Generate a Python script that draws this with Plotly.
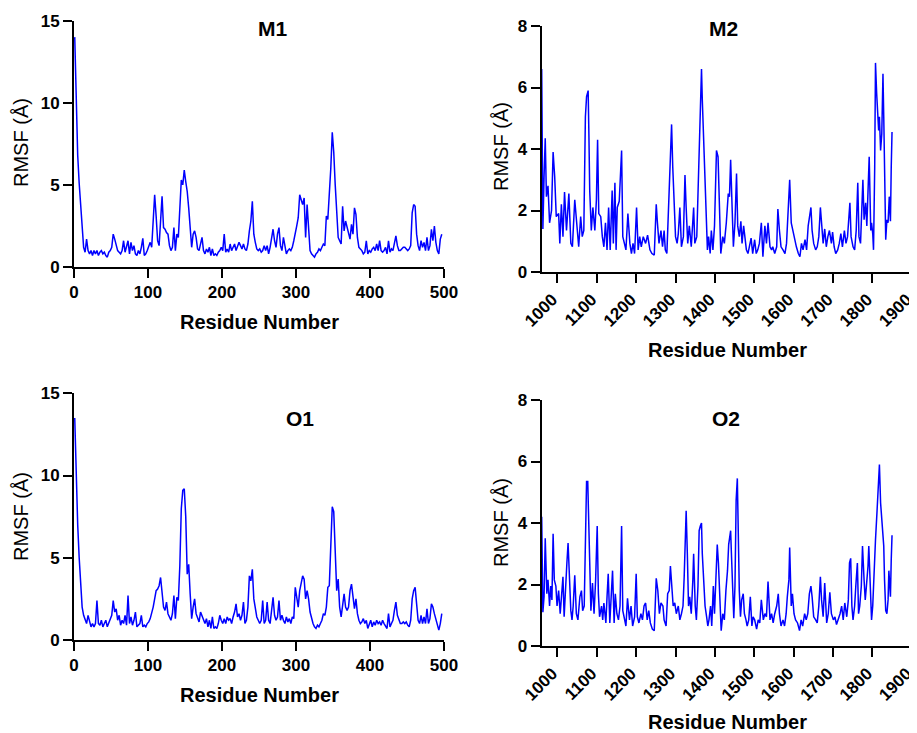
import plotly.graph_objects as go

# ---------------- data ----------------
m1_rmsf = [
    14.0, 9.5, 6.8, 5.1, 3.8, 2.2, 1.2, 0.9, 1.7, 1.0, 0.8, 1.0, 0.7, 1.0, 0.8, 1.0, 0.7, 0.9, 1.0, 0.8,
    0.9, 0.7, 0.6, 0.9, 1.0, 1.2, 2.0, 1.7, 1.4, 1.0, 0.9, 0.8, 1.0, 1.6, 0.9, 1.3, 1.6, 0.8, 1.5, 1.0,
    1.3, 0.8, 0.7, 1.0, 0.8, 1.2, 1.75, 0.7, 0.8, 1.0, 1.3, 1.5, 1.2, 3.2, 4.4, 3.1, 1.6, 1.3, 2.6, 4.3,
    2.4, 2.3, 2.1, 2.0, 1.3, 1.0, 1.2, 2.4, 1.0, 2.0, 1.8, 3.8, 5.3, 5.0, 5.9, 5.2, 4.6, 3.6, 2.4, 1.2,
    2.0, 2.2, 1.8, 1.1, 1.0, 1.5, 1.8, 1.0, 0.8, 1.1, 0.9, 1.2, 0.7, 1.1, 0.7, 0.8, 0.7, 0.9, 1.0, 1.2,
    1.0, 2.0, 0.9, 1.1, 0.9, 1.4, 1.0, 1.2, 1.4, 1.0, 1.2, 1.5, 1.3, 1.1, 1.4, 1.1, 1.0, 1.4, 2.2, 2.8,
    4.0, 2.0, 1.5, 1.1, 1.0, 1.1, 0.9, 1.0, 1.3, 1.0, 1.3, 0.8, 1.2, 1.8, 2.3, 1.6, 1.2, 2.0, 2.4, 1.3,
    1.0, 1.8, 1.2, 0.8, 1.0, 1.1, 1.0, 1.2, 1.6, 2.2, 2.5, 3.0, 4.4, 4.1, 3.8, 4.2, 1.8, 3.8, 2.0, 1.0,
    0.8, 0.7, 0.6, 0.8, 0.9, 1.1, 1.0, 1.2, 1.4, 1.3, 3.1, 2.9, 4.2, 6.0, 8.2, 7.0, 5.0, 3.0, 1.8, 1.6,
    1.4, 3.7, 2.2, 2.8, 2.4, 2.0, 1.7, 2.6, 2.0, 3.6, 3.2, 1.8, 1.2, 1.1, 1.0, 0.8, 0.9, 1.6, 0.8, 1.0,
    0.9, 1.1, 1.2, 1.0, 1.4, 1.0, 1.6, 1.0, 0.9, 1.0, 1.2, 0.8, 1.6, 0.9, 1.1, 1.0, 1.5, 1.9, 1.3, 1.0,
    1.0, 1.1, 1.2, 1.2, 1.1, 1.0, 1.1, 1.3, 3.3, 3.8, 3.7, 2.0, 1.3, 1.0, 1.6, 1.2, 1.5, 1.0, 1.8, 1.0,
    1.3, 2.3, 1.6, 2.5, 1.5, 1.0, 0.8, 1.7, 2.0,
]

o1_rmsf = [
    13.5, 9.5, 7.0, 5.0, 3.5, 2.0, 1.5, 1.2, 1.0, 1.5, 1.1, 0.8, 1.0, 0.8, 1.0, 2.4, 1.0, 0.9, 1.2, 0.8,
    1.0, 1.2, 0.8, 1.0, 1.2, 1.5, 2.4, 1.7, 1.9, 1.2, 1.5, 0.9, 1.2, 1.0, 1.5, 0.9, 2.7, 1.0, 1.4, 0.9,
    1.2, 1.7, 0.8, 0.9, 1.0, 1.5, 0.8, 0.9, 0.8, 1.0, 1.1, 1.3, 1.6, 2.0, 2.5, 3.0, 3.1, 3.3, 3.8, 3.0,
    2.0, 1.8, 2.3, 1.6, 1.4, 1.2, 1.6, 2.7, 1.3, 2.6, 2.4, 4.5, 8.0, 9.1, 9.2, 7.5, 4.0, 4.6, 2.8, 1.3,
    2.0, 2.5, 1.6, 1.3, 1.1, 1.7, 1.5, 1.2, 1.0, 1.3, 0.8, 1.2, 0.7, 1.4, 0.7, 0.8, 0.7, 1.0, 1.5, 1.2,
    1.0, 1.3, 1.0, 1.4, 1.2, 1.3, 1.0, 1.4, 1.7, 2.2, 1.4, 1.6, 1.2, 1.5, 2.3, 1.0, 1.2, 2.0, 3.9, 3.6,
    4.3, 2.5, 1.8, 1.4, 1.2, 1.0, 1.2, 2.4, 1.0, 1.2, 2.3, 1.2, 1.0, 2.0, 2.6, 1.5, 1.2, 1.4, 2.4, 1.2,
    1.5, 1.2, 1.0, 1.4, 1.1, 1.3, 1.0, 1.4, 1.3, 3.2, 2.4, 2.0, 3.0, 3.6, 3.9, 3.7, 2.5, 3.0, 2.5, 1.7,
    1.3, 1.0, 0.8, 0.7, 0.9, 0.8, 1.0, 1.2, 1.6, 1.5, 2.0, 3.2, 3.3, 6.0, 8.1, 7.8, 5.0, 3.0, 3.7, 2.0,
    1.4, 2.0, 2.8, 2.0, 1.8, 2.0, 3.0, 3.4, 2.6, 1.9, 2.5, 1.6, 1.2, 1.0, 1.1, 1.3, 1.0, 1.2, 0.7, 0.9,
    1.2, 0.8, 1.1, 0.9, 1.2, 1.0, 1.1, 0.9, 1.2, 1.0, 0.8, 0.7, 1.6, 0.8, 1.0, 1.2, 1.8, 2.3, 1.5, 1.2,
    1.0, 1.0, 1.1, 1.0, 1.1, 0.9, 0.8, 1.2, 2.5, 3.0, 3.2, 2.2, 1.2, 1.0, 1.5, 1.0, 1.4, 1.0, 1.9, 1.0,
    1.3, 2.2, 2.0, 1.6, 1.2, 0.8, 0.6, 1.0, 1.6,
]

m2_residue = [
    960, 963, 966, 969, 972, 976, 980, 985, 989, 993, 997, 1003, 1006, 1010, 1014, 1018, 1023, 1027, 1029, 1034,
    1038, 1044, 1048, 1054, 1059, 1063, 1067, 1071, 1074, 1078, 1080, 1082, 1086, 1090, 1095, 1099, 1102, 1105, 1110, 1114,
    1118, 1122, 1126, 1130, 1134, 1139, 1142, 1146, 1149, 1152, 1157, 1163, 1166, 1171, 1174, 1179, 1184, 1188, 1192, 1196,
    1201, 1205, 1209, 1213, 1218, 1224, 1229, 1235, 1240, 1246, 1251, 1254, 1258, 1263, 1267, 1271, 1274, 1278, 1282, 1286,
    1290, 1293, 1296, 1300, 1304, 1307, 1311, 1315, 1320, 1324, 1327, 1331, 1335, 1340, 1346, 1349, 1354, 1357, 1361, 1364,
    1366, 1368, 1372, 1375, 1378, 1381, 1384, 1388, 1391, 1395, 1399, 1404, 1408, 1411, 1415, 1420, 1424, 1429, 1432, 1434,
    1437, 1440, 1444, 1447, 1451, 1455, 1458, 1462, 1466, 1469, 1473, 1476, 1480, 1484, 1488, 1492, 1496, 1501, 1505, 1509,
    1513, 1518, 1522, 1527, 1531, 1535, 1540, 1544, 1547, 1552, 1557, 1560, 1564, 1568, 1573, 1578, 1582, 1586, 1590, 1594,
    1598, 1601, 1607, 1612, 1616, 1620, 1624, 1629, 1633, 1637, 1641, 1644, 1647, 1651, 1656, 1660, 1664, 1668, 1671, 1675,
    1679, 1683, 1687, 1691, 1696, 1699, 1703, 1707, 1712, 1716, 1720, 1724, 1729, 1733, 1737, 1740, 1743, 1746, 1751, 1755,
    1759, 1763, 1766, 1770, 1773, 1776, 1779, 1783, 1786, 1790, 1792, 1796, 1798, 1801, 1803, 1806, 1808, 1811, 1813, 1816,
    1818, 1821, 1824, 1827, 1829, 1832, 1834, 1837, 1840, 1843, 1846, 1848, 1850,
]
m2_rmsf = [
    6.6, 1.4, 3.1, 4.35, 2.45, 2.8, 1.6, 2.0, 3.9, 3.1, 1.8, 1.9, 0.93, 2.2, 1.15, 2.6, 1.35, 2.05, 2.55, 0.93,
    0.82, 2.35, 1.6, 0.82, 1.8, 1.15, 1.35, 5.05, 5.7, 5.9, 4.4, 2.65, 1.35, 2.1, 1.35, 2.35, 4.3, 1.9, 1.8, 1.15,
    0.82, 1.6, 0.72, 2.1, 0.72, 2.65, 0.93, 2.9, 0.72, 2.1, 2.3, 3.95, 1.15, 0.93, 0.72, 1.9, 0.93, 0.6, 0.93, 0.6,
    2.1, 0.72, 1.15, 0.82, 1.15, 0.93, 1.2, 0.72, 0.6, 0.55, 2.2, 1.6, 0.93, 1.35, 0.82, 1.35, 0.72, 0.6, 2.0, 3.3,
    4.8, 3.4, 2.35, 1.15, 0.93, 1.25, 2.1, 0.82, 1.15, 3.15, 2.1, 0.93, 1.5, 0.82, 2.1, 0.93, 1.15, 2.35, 4.1, 5.5,
    6.6, 5.6, 3.95, 3.3, 2.25, 0.72, 1.15, 0.6, 1.35, 0.72, 1.5, 3.95, 3.75, 2.35, 0.6, 1.15, 0.93, 1.6, 2.45, 2.55,
    2.45, 3.65, 2.0, 0.82, 1.6, 3.2, 1.5, 1.15, 1.65, 0.93, 1.5, 1.15, 0.72, 0.6, 0.82, 1.1, 0.6, 1.05, 0.6, 0.72,
    0.93, 1.6, 0.5, 1.5, 0.93, 1.6, 0.82, 0.72, 0.82, 0.6, 0.82, 2.05, 1.35, 0.82, 0.72, 0.6, 0.93, 1.8, 3.0, 1.6,
    1.35, 1.15, 0.82, 0.6, 0.5, 0.93, 0.72, 1.05, 0.72, 1.5, 1.8, 2.1, 1.35, 0.93, 0.72, 0.82, 1.15, 2.1, 1.6, 0.93,
    1.4, 0.82, 1.15, 1.35, 0.93, 1.3, 0.82, 0.6, 0.72, 0.93, 1.25, 0.82, 1.35, 0.93, 1.15, 1.6, 2.25, 1.15, 0.82, 0.72,
    1.35, 2.9, 1.15, 0.93, 2.25, 3.0, 1.7, 2.25, 1.5, 2.65, 3.75, 1.35, 1.6, 1.25, 0.72, 3.4, 6.8, 5.8, 5.25, 4.6,
    5.05, 3.95, 4.5, 6.45, 5.05, 2.9, 1.05, 1.7, 1.6, 2.45, 1.65, 3.4, 4.55,
]

o2_residue = [
    960, 963, 966, 969, 973, 976, 980, 983, 986, 989, 992, 996, 999, 1003, 1007, 1010, 1014, 1017, 1020, 1024,
    1027, 1030, 1034, 1037, 1040, 1044, 1048, 1052, 1057, 1061, 1064, 1068, 1071, 1074, 1077, 1079, 1082, 1085, 1089, 1093,
    1097, 1101, 1104, 1107, 1112, 1115, 1118, 1123, 1126, 1129, 1133, 1137, 1140, 1144, 1147, 1151, 1155, 1159, 1163, 1166,
    1170, 1174, 1178, 1183, 1187, 1191, 1196, 1200, 1203, 1207, 1212, 1216, 1220, 1224, 1228, 1232, 1236, 1241, 1246, 1251,
    1255, 1259, 1263, 1268, 1271, 1276, 1280, 1284, 1287, 1290, 1294, 1298, 1302, 1307, 1311, 1315, 1319, 1322, 1325, 1327,
    1330, 1333, 1336, 1340, 1344, 1346, 1350, 1353, 1357, 1360, 1363, 1366, 1368, 1372, 1375, 1379, 1382, 1385, 1389, 1392,
    1396, 1399, 1403, 1406, 1409, 1413, 1416, 1420, 1424, 1428, 1432, 1435, 1437, 1440, 1442, 1446, 1448, 1451, 1454, 1457,
    1459, 1462, 1465, 1468, 1472, 1475, 1479, 1482, 1486, 1490, 1494, 1497, 1501, 1506, 1510, 1514, 1518, 1523, 1527, 1531,
    1535, 1540, 1544, 1548, 1552, 1557, 1561, 1564, 1568, 1573, 1577, 1581, 1584, 1588, 1590, 1594, 1597, 1601, 1605, 1610,
    1615, 1619, 1623, 1628, 1632, 1636, 1640, 1644, 1647, 1651, 1656, 1660, 1664, 1668, 1671, 1675, 1679, 1684, 1688, 1692,
    1696, 1701, 1705, 1709, 1713, 1718, 1722, 1726, 1730, 1735, 1739, 1742, 1745, 1748, 1751, 1755, 1758, 1762, 1765, 1768,
    1772, 1775, 1779, 1782, 1785, 1789, 1791, 1795, 1798, 1801, 1805, 1808, 1812, 1814, 1817, 1818, 1821, 1824, 1826, 1829,
    1831, 1834, 1837, 1840, 1842, 1846, 1848, 1850,
]
o2_rmsf = [
    4.2, 1.1, 1.6, 3.5, 1.7, 2.15, 1.3, 1.95, 1.5, 3.65, 2.15, 1.95, 1.3, 1.8, 1.05, 1.7, 2.25, 0.95, 1.95, 2.7,
    3.35, 2.15, 1.15, 0.85, 1.3, 2.3, 1.05, 0.85, 1.6, 1.8, 1.15, 1.3, 4.1, 5.35, 5.35, 4.0, 2.6, 1.15, 2.05, 1.05,
    2.15, 3.9, 1.7, 0.95, 1.3, 0.85, 1.4, 0.75, 1.6, 2.35, 0.75, 1.6, 2.45, 0.75, 1.7, 1.05, 0.85, 1.3, 3.9, 1.15,
    0.85, 0.65, 1.55, 0.85, 1.3, 0.65, 0.95, 2.35, 0.95, 0.75, 1.05, 0.85, 1.3, 1.4, 0.85, 1.15, 0.75, 0.55, 0.5, 2.2,
    1.8, 1.05, 1.4, 1.3, 0.85, 0.65, 1.7, 1.8, 2.6, 2.15, 1.3, 1.4, 1.05, 1.3, 0.85, 1.05, 1.3, 2.25, 3.75, 4.4,
    3.0, 1.3, 1.6, 1.05, 2.15, 3.0, 1.3, 0.85, 1.95, 3.75, 3.9, 4.0, 3.0, 2.05, 1.3, 0.95, 0.65, 0.85, 1.3, 0.65,
    1.95, 1.05, 2.35, 3.3, 2.7, 1.3, 0.5, 1.05, 0.85, 1.8, 2.45, 3.3, 3.45, 3.75, 3.0, 1.7, 0.9, 1.95, 4.75, 5.45,
    3.9, 1.8, 0.95, 1.5, 1.7, 1.05, 0.85, 0.65, 0.85, 1.6, 0.65, 0.95, 0.85, 0.55, 0.85, 0.75, 1.5, 0.85, 1.05, 0.95,
    2.1, 0.85, 1.05, 0.75, 1.05, 1.3, 1.7, 1.05, 0.65, 0.85, 0.65, 1.05, 1.6, 2.15, 3.2, 1.3, 1.7, 1.05, 0.85, 0.75,
    0.5, 0.85, 0.65, 1.05, 0.85, 1.05, 1.7, 1.95, 1.6, 0.95, 0.85, 0.75, 1.3, 2.25, 1.5, 0.95, 2.05, 0.75, 1.05, 1.75,
    1.05, 0.85, 0.95, 0.7, 0.85, 1.05, 1.3, 0.85, 1.4, 0.95, 1.5, 2.7, 2.85, 1.3, 0.85, 1.3, 1.95, 2.7, 1.05, 1.3,
    1.95, 3.25, 2.15, 1.5, 1.95, 2.6, 3.25, 1.7, 0.85, 1.3, 2.8, 3.45, 4.4, 4.9, 5.7, 5.9, 4.65, 4.1, 3.9, 3.25,
    2.15, 1.15, 1.05, 1.5, 2.45, 1.6, 2.8, 3.6,
]

m1_residue = list(range(1, 2 * len(m1_rmsf), 2))
o1_residue = list(range(1, 2 * len(o1_rmsf), 2))

panel_titles = ["M1", "M2", "O1", "O2"]
small_x_ticks = [0, 100, 200, 300, 400, 500]
large_x_ticks = [1000, 1100, 1200, 1300, 1400, 1500, 1600, 1700, 1800, 1900]
small_y_ticks = [0, 5, 10, 15]
large_y_ticks = [0, 2, 4, 6, 8]
x_title = "Residue Number"
y_title = "RMSF (Å)"

# ---------------- layout ----------------
# The page body has an 8px default margin, so the figure is drawn 8px in from
# the window's top-left corner; window positions are converted accordingly.
OFF = 8
W, H = 917 - OFF, 733 - OFF
FONT = "Liberation Sans"
LINE_COLOR = "#0000FF"


def px(x):
    return (x - OFF) / W


def py(y):
    return 1 - (y - OFF) / H


axis_common = dict(
    showline=True, linecolor="black", linewidth=2,
    ticks="outside", ticklen=9, tickwidth=2, tickcolor="black",
    showgrid=False, zeroline=False, automargin=False,
    ticklabeloverflow="allow",
    tickfont=dict(family=FONT, size=17, color="black", weight="bold"),
)
rotated = dict(tickangle=-45, ticklabelshift=-5)

fig = go.Figure()
series = [
    (m1_residue, m1_rmsf, "x", "y"),
    (m2_residue, m2_rmsf, "x2", "y2"),
    (o1_residue, o1_rmsf, "x3", "y3"),
    (o2_residue, o2_rmsf, "x4", "y4"),
]
for xs, ys, xa, ya in series:
    fig.add_trace(go.Scatter(x=xs, y=ys, mode="lines", xaxis=xa, yaxis=ya,
                             line=dict(color=LINE_COLOR, width=1.5),
                             showlegend=False, hoverinfo="skip"))

left_dom = [px(74), px(444)]
right_dom = [px(541.7), px(911.7)]

fig.update_layout(
    template="none",
    width=W, height=H,
    margin=dict(l=0, r=0, t=0, b=0, pad=0),
    paper_bgcolor="white", plot_bgcolor="white",
    showlegend=False,
    xaxis=dict(axis_common, domain=left_dom, range=[0, 500], tickvals=small_x_ticks, anchor="y"),
    yaxis=dict(axis_common, domain=[py(267), py(20.7)], range=[0, 15], tickvals=small_y_ticks, anchor="x"),
    xaxis2=dict(axis_common, **rotated, domain=right_dom, range=[960, 1900], tickvals=large_x_ticks, anchor="y2"),
    yaxis2=dict(axis_common, domain=[py(272), py(26)], range=[0, 8], tickvals=large_y_ticks, anchor="x2"),
    xaxis3=dict(axis_common, domain=left_dom, range=[0, 500], tickvals=small_x_ticks, anchor="y3"),
    yaxis3=dict(axis_common, domain=[py(640), py(393.3)], range=[0, 15], tickvals=small_y_ticks, anchor="x3"),
    xaxis4=dict(axis_common, **rotated, domain=right_dom, range=[960, 1900], tickvals=large_x_ticks, anchor="y4"),
    yaxis4=dict(axis_common, domain=[py(646), py(400)], range=[0, 8], tickvals=large_y_ticks, anchor="x4"),
)

annotations = []
title_pos = [(272, 28), (723, 28), (300, 418), (726, 418)]
for t, (x, y) in zip(panel_titles, title_pos):
    annotations.append(dict(text=t, x=px(x), y=py(y), xref="paper", yref="paper",
                            showarrow=False, xanchor="center", yanchor="middle",
                            font=dict(family=FONT, size=21, color="black", weight="bold")))
for (x, y) in [(259, 322), (727, 350), (259, 695), (727, 722)]:
    annotations.append(dict(text=x_title, x=px(x), y=py(y), xref="paper", yref="paper",
                            showarrow=False, xanchor="center", yanchor="middle",
                            font=dict(family=FONT, size=20, color="black", weight="bold")))
for (x, y) in [(21, 143), (501, 147), (21, 517), (501, 523)]:
    annotations.append(dict(text=y_title, x=px(x), y=py(y), xref="paper", yref="paper",
                            showarrow=False, xanchor="center", yanchor="middle", textangle=-90,
                            font=dict(family=FONT, size=20, color="black")))
fig.update_layout(annotations=annotations)

fig.write_html("out.html")
